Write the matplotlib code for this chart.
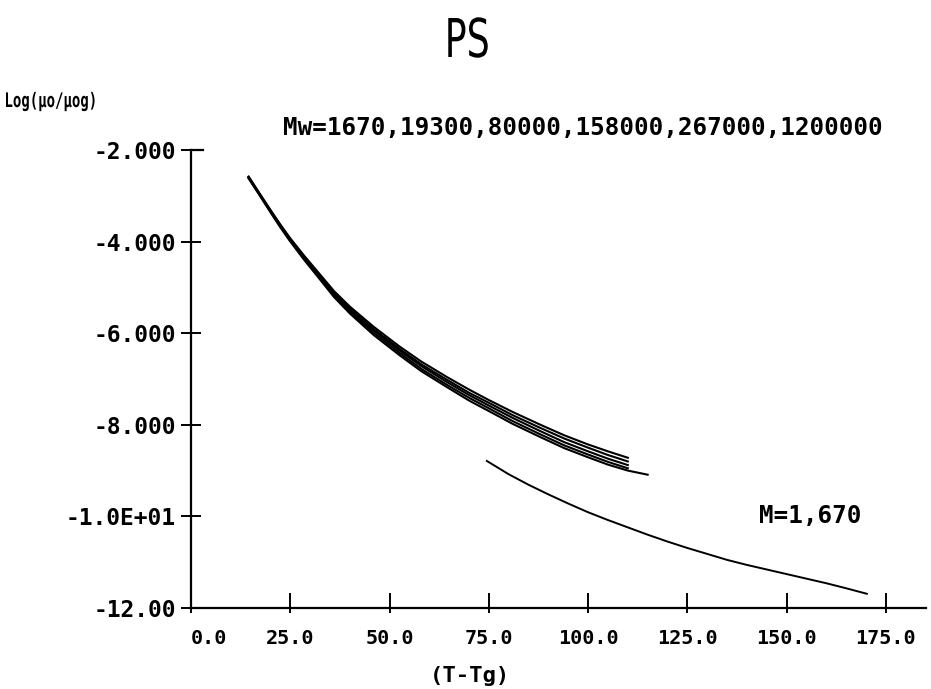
import matplotlib
matplotlib.use("Agg")
import matplotlib.pyplot as plt
import matplotlib.transforms as mtransforms
from matplotlib.ticker import FixedLocator, NullFormatter
from matplotlib.textpath import TextPath
from matplotlib.patches import PathPatch
from matplotlib.font_manager import FontProperties

# bundle of five high-Mw curves (common x up to 110, the last one goes to 115)
x_bundle = [14.5, 17.5, 20, 22.5, 25, 28.5, 32.5, 36, 40, 46, 52.5, 58, 64.5, 70,
            75, 81, 88, 94, 100, 105, 110]
y_19300 = [-2.58, -2.98, -3.31, -3.63, -3.93, -4.31, -4.72, -5.08, -5.42, -5.86,
           -6.29, -6.62, -6.96, -7.23, -7.46, -7.72, -8.00, -8.23, -8.43, -8.58, -8.72]
y_80000 = [-2.59, -2.99, -3.32, -3.64, -3.95, -4.33, -4.75, -5.11, -5.46, -5.91,
           -6.34, -6.68, -7.02, -7.30, -7.52, -7.79, -8.07, -8.30, -8.50, -8.66, -8.80]
y_158000 = [-2.60, -3.00, -3.33, -3.65, -3.96, -4.35, -4.77, -5.13, -5.49, -5.94,
            -6.38, -6.72, -7.07, -7.35, -7.58, -7.85, -8.14, -8.38, -8.58, -8.74, -8.88]
y_267000 = [-2.61, -3.01, -3.34, -3.67, -3.98, -4.37, -4.80, -5.17, -5.53, -5.99,
            -6.43, -6.78, -7.13, -7.41, -7.64, -7.92, -8.21, -8.45, -8.65, -8.81, -8.95]
x_1200000 = [14.5, 17.5, 20, 22.5, 25, 28.5, 32.5, 36, 40, 46, 52.5, 58, 64.5, 70,
             75, 81, 88, 94, 100, 105, 110, 115]
y_1200000 = [-2.62, -3.02, -3.36, -3.69, -4.00, -4.40, -4.83, -5.21, -5.57, -6.04,
             -6.48, -6.83, -7.18, -7.47, -7.70, -7.98, -8.27, -8.51, -8.71, -8.87,
             -9.00, -9.09]

# low molecular weight curve
x_1670 = [74.5, 80, 85, 90, 95, 100, 105, 110, 115, 120, 125, 130, 135, 140, 145,
          150, 155, 160, 165, 170.2]
y_1670 = [-8.79, -9.08, -9.31, -9.52, -9.72, -9.91, -10.08, -10.24, -10.40, -10.55,
          -10.69, -10.82, -10.95, -11.06, -11.16, -11.26, -11.36, -11.46, -11.57, -11.69]

xticks = [0, 25, 50, 75, 100, 125, 150, 175]
xtick_labels = ["0.0", "25.0", "50.0", "75.0", "100.0", "125.0", "150.0", "175.0"]
yticks = [-12, -10, -8, -6, -4, -2]
ytick_labels = ["-12.00", "-1.0E+01", "-8.000", "-6.000", "-4.000", "-2.000"]

MONO = "DejaVu Sans Mono"


def squeezed_text(fig, s, cx, bottom, size, sx, family, weight="normal", ha="center"):
    # text as a path, squeezed horizontally, placed in pixel coords
    tp = TextPath((0, 0), s, size=size, prop=FontProperties(family=family, weight=weight))
    bb = tp.get_extents()
    dx = -bb.x0 - bb.width / 2 if ha == "center" else -bb.x0
    tr = mtransforms.Affine2D().translate(dx, 0).scale(sx, 1.0).translate(cx, 689 - bottom)
    fig.add_artist(PathPatch(tp, transform=tr, facecolor="black", edgecolor="none"))


fig = plt.figure(figsize=(9.31, 6.89), dpi=100)
ax = fig.add_axes([0.2052, 0.1176, 0.789, 0.6647])

for ys in [y_19300, y_80000, y_158000, y_267000]:
    ax.plot(x_bundle, ys, color="black", lw=1.5)
ax.plot(x_1200000, y_1200000, color="black", lw=1.5)
ax.plot(x_1670, y_1670, color="black", lw=1.4)

ax.set_xlim(0, 185)
ax.set_ylim(-12, -2)

ax.spines["right"].set_visible(False)
ax.spines["top"].set_bounds(0, 3)
for s in ["left", "bottom", "top"]:
    ax.spines[s].set_linewidth(1.6)

ax.set_yticks(yticks)
ax.set_yticklabels(ytick_labels, fontfamily=MONO, fontweight="bold", fontsize=16.5)
ax.tick_params(axis="y", direction="inout", length=14, width=1.4, pad=4)

ax.xaxis.remove_overlapping_locs = False
ax.set_xticks(xticks)
ax.set_xticklabels(xtick_labels, fontfamily=MONO, fontweight="bold", fontsize=14.5)
ax.xaxis.set_minor_locator(FixedLocator(xticks))
ax.xaxis.set_minor_formatter(NullFormatter())
ax.tick_params(axis="x", which="major", direction="in", length=11, width=1.4, pad=15)
ax.tick_params(axis="x", which="minor", direction="out", length=3.6, width=1.4)
ax.get_xticklabels()[0].set_horizontalalignment("left")

ax.text(143, -10.0, "M=1,670", fontfamily=MONO, fontweight="bold", fontsize=17.5,
        va="center", ha="left")

squeezed_text(fig, "PS", 468, 57, 53.5, 0.68, "DejaVu Sans")
squeezed_text(fig, "Log(\u03bco/\u03bcog)", 6, 107, 20, 0.7, MONO, weight="bold", ha="left")

fig.text(0.304, 0.814, "Mw=1670,19300,80000,158000,267000,1200000", fontfamily=MONO,
         fontweight="bold", fontsize=17.5, ha="left", va="center")
fig.text(0.505, 0.019, "(T-Tg)", fontfamily=MONO, fontweight="bold", fontsize=16,
         ha="center", va="center")

fig.savefig("out.png", dpi=100)
